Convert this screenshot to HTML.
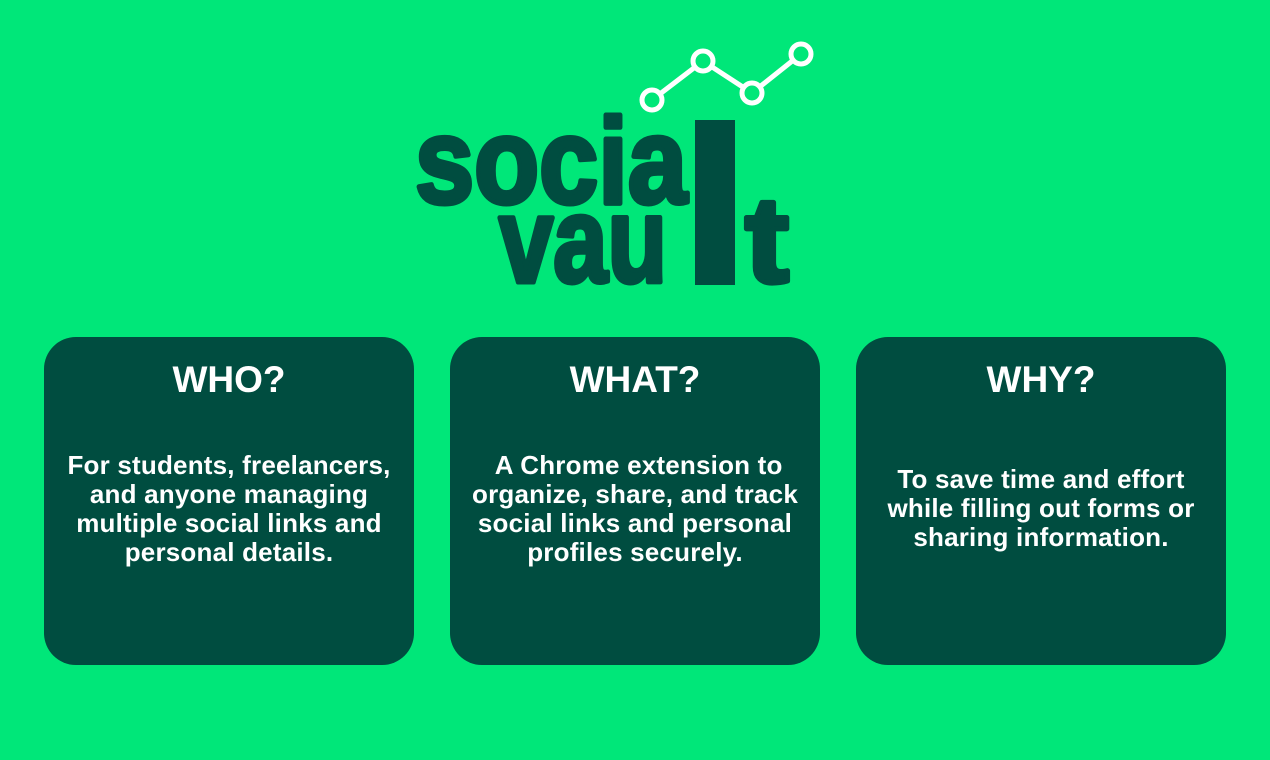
<!DOCTYPE html>
<html><head><meta charset="utf-8"><style>
body{margin:0;width:1270px;height:760px;background:#00e779;overflow:hidden;font-family:"Liberation Sans",sans-serif;position:relative}
.card{position:absolute;top:337px;width:370px;height:328px;border-radius:32px;background:#004d40;color:#fff;text-align:center}
.card h2{margin:0;position:absolute;top:22px;width:100%;font-size:37px;font-weight:bold}
.card p{margin:0;position:absolute;width:100%;font-size:26px;font-weight:bold;line-height:29px;letter-spacing:0.2px}
</style></head><body>
<svg width="1270" height="300" style="position:absolute;left:0;top:0">
<g stroke="#fff" stroke-width="5" fill="none">
<polyline points="652,100 703,61 752,93 801,54"/>
<circle cx="652" cy="100" r="10" fill="#00e779"/>
<circle cx="703" cy="61" r="10" fill="#00e779"/>
<circle cx="752" cy="93" r="10" fill="#00e779"/>
<circle cx="801" cy="54" r="10" fill="#00e779"/>
</g>
<g fill="#004d40" stroke="#004d40" stroke-width="5" stroke-linejoin="round" font-family="Liberation Sans" font-weight="bold" font-size="122">
<text x="415" y="203" textLength="272" lengthAdjust="spacingAndGlyphs">socia</text>
<rect x="695" y="120" width="40" height="165" stroke="none"/>
<text x="499" y="282" textLength="168" lengthAdjust="spacingAndGlyphs">vau</text>
<text x="745" y="282" textLength="44" lengthAdjust="spacingAndGlyphs">t</text>
</g>
</svg>
<div class="card" style="left:44px">
<h2>WHO?</h2>
<p style="top:114px">For students, freelancers,<br>and anyone managing<br>multiple social links and<br>personal details.</p></div>
<div class="card" style="left:450px">
<h2>WHAT?</h2>
<p style="top:114px">&nbsp;A Chrome extension to<br>organize, share, and track<br>social links and personal<br>profiles securely.</p></div>
<div class="card" style="left:856px">
<h2>WHY?</h2>
<p style="top:128px">To save time and effort<br>while filling out forms or<br>sharing information.</p></div>
</body></html>
